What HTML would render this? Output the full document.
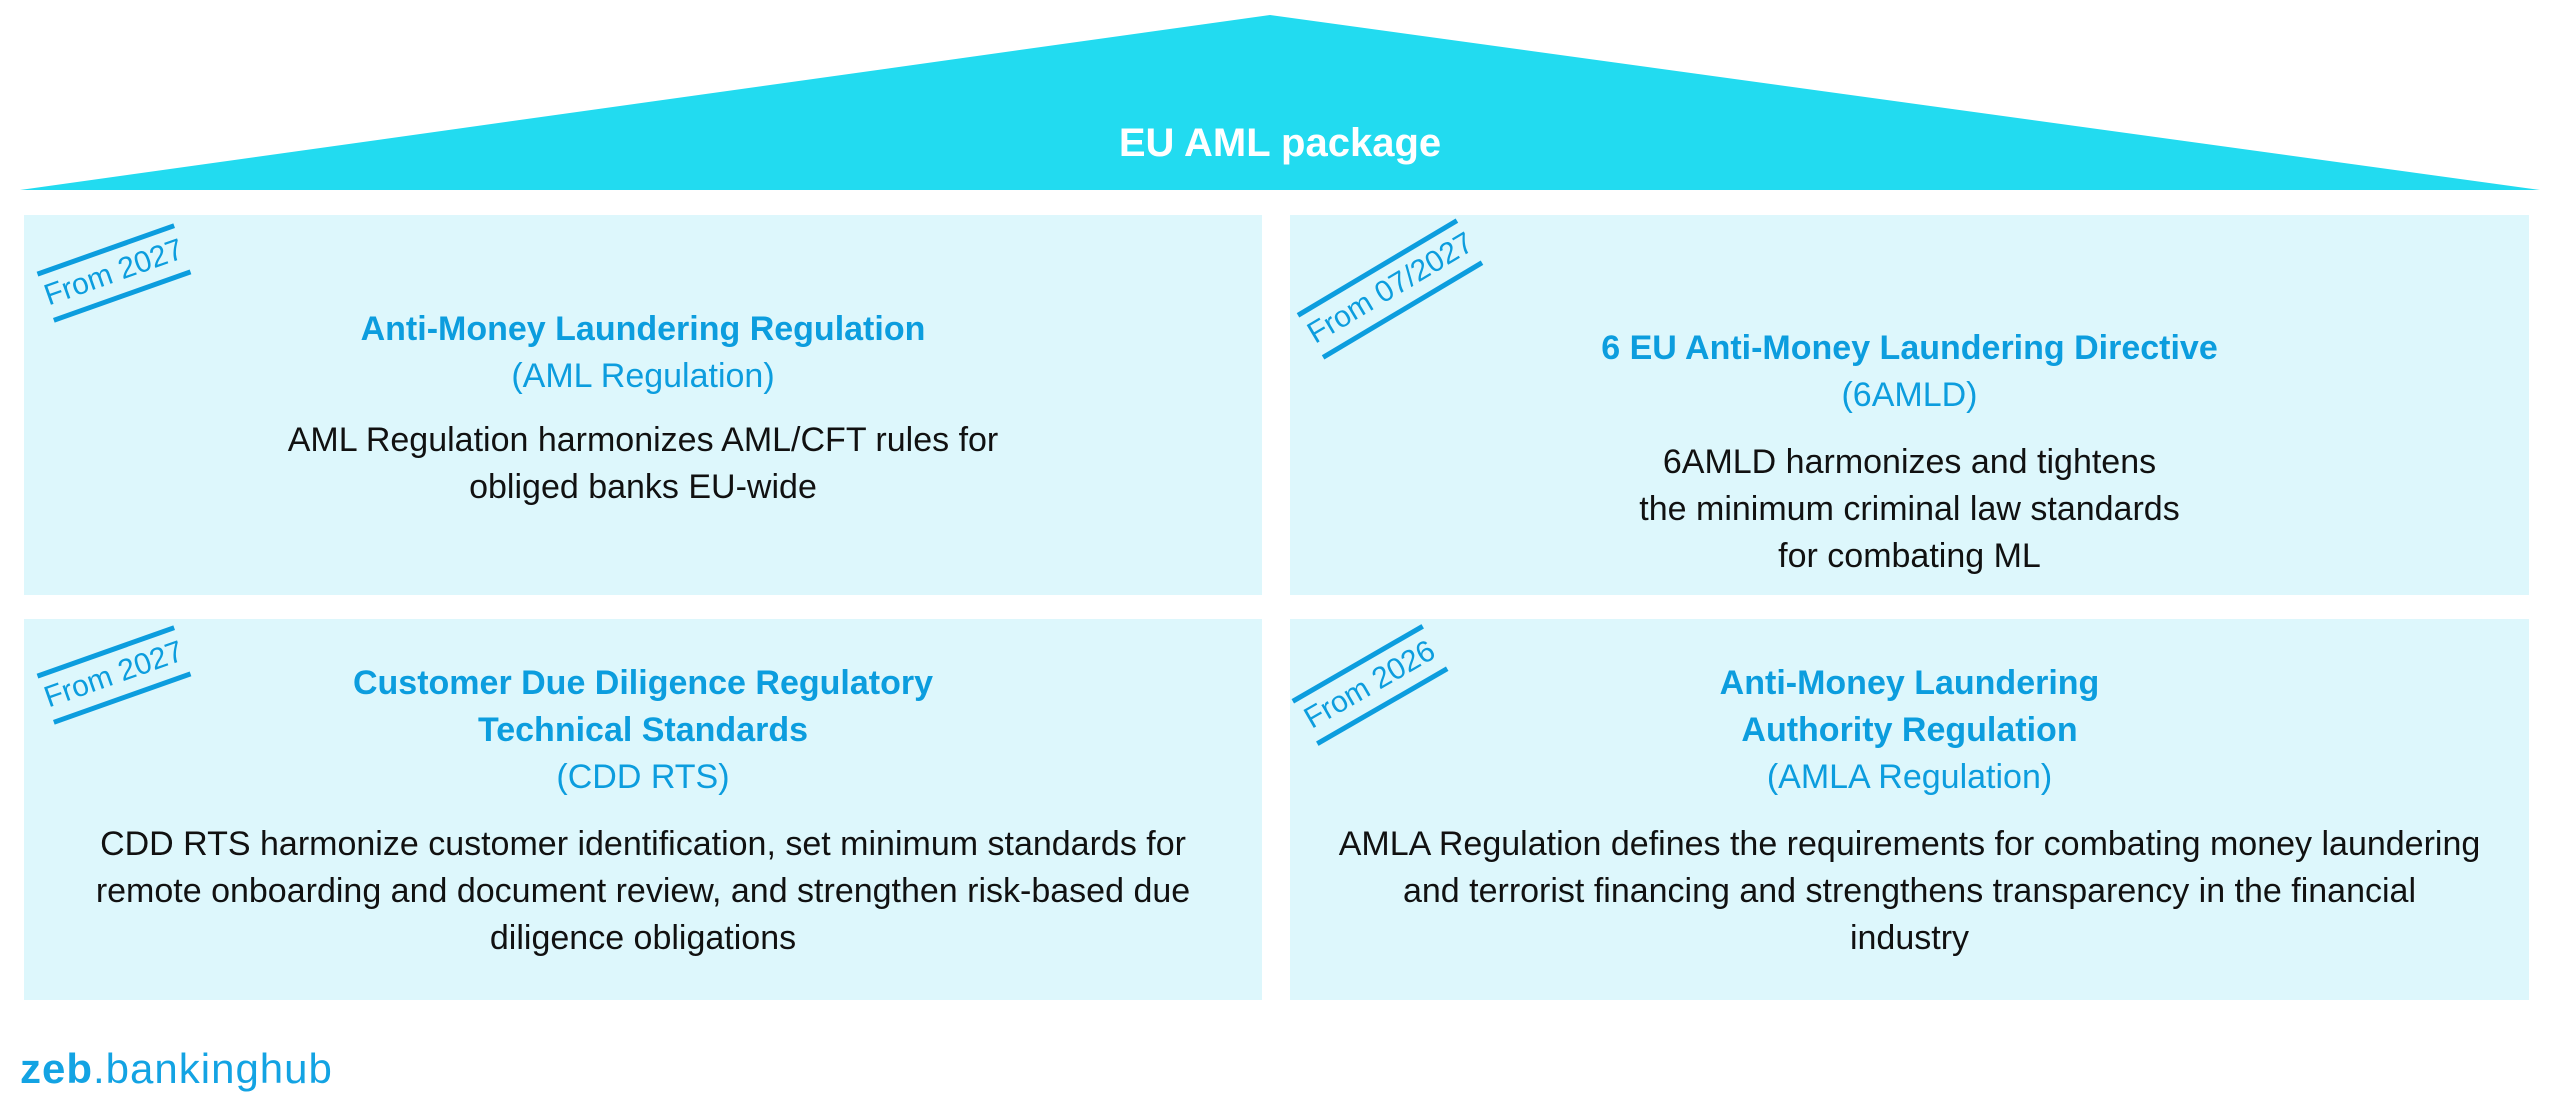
<!DOCTYPE html>
<html><head><meta charset="utf-8"><style>
body{margin:0;width:2560px;height:1101px;background:#fff;position:relative;overflow:hidden;font-family:"Liberation Sans",sans-serif}
.box{position:absolute;background:#DDF7FC;overflow:hidden}
.t{position:absolute;left:0;right:0;text-align:center;font-size:34px;line-height:47px;color:#111}
.b{color:#0C9DDE;font-weight:bold}
.s{color:#0C9DDE}
.tag{position:absolute;height:44px;border-top:5px solid #0C9DDE;border-bottom:5px solid #0C9DDE;color:#0C9DDE;font-size:30px;line-height:44px;text-align:center;white-space:nowrap}
</style></head><body>
<svg style="position:absolute;left:0;top:0" width="2560" height="200"><polygon points="20,190 1270,15 2540,190" fill="#22DBF0"/></svg>
<div style="position:absolute;left:0;width:2560px;top:118px;text-align:center;color:#fff;font-weight:bold;font-size:40px;line-height:50px">EU AML package</div>

<div class="box" style="left:24px;top:215px;width:1238px;height:380px">
<div class="tag" style="left:90px;top:58px;width:145px;transform:translate(-50%,-50%) rotate(-19.5deg)">From 2027</div>
<div class="t" style="top:91px"><span class="b">Anti-Money Laundering Regulation</span><br><span class="s">(AML Regulation)</span></div>
<div class="t" style="top:202px">AML Regulation harmonizes AML/CFT rules for<br>obliged banks EU-wide</div>
</div>

<div class="box" style="left:1290px;top:215px;width:1239px;height:380px">
<div class="tag" style="left:100px;top:74px;width:185px;transform:translate(-50%,-50%) rotate(-30.8deg)">From 07/2027</div>
<div class="t" style="top:110px"><span class="b">6 EU Anti-Money Laundering Directive</span><br><span class="s">(6AMLD)</span></div>
<div class="t" style="top:224px">6AMLD harmonizes and tightens<br>the minimum criminal law standards<br>for combating ML</div>
</div>

<div class="box" style="left:24px;top:619px;width:1238px;height:381px">
<div class="tag" style="left:90px;top:56px;width:145px;transform:translate(-50%,-50%) rotate(-19.5deg)">From 2027</div>
<div class="t" style="top:41px"><span class="b">Customer Due Diligence Regulatory<br>Technical Standards</span><br><span class="s">(CDD RTS)</span></div>
<div class="t" style="top:202px">CDD RTS harmonize customer identification, set minimum standards for<br>remote onboarding and document review, and strengthen risk-based due<br>diligence obligations</div>
</div>

<div class="box" style="left:1290px;top:619px;width:1239px;height:381px">
<div class="tag" style="left:80px;top:66px;width:150px;transform:translate(-50%,-50%) rotate(-30deg)">From 2026</div>
<div class="t" style="top:41px"><span class="b">Anti-Money Laundering<br>Authority Regulation</span><br><span class="s">(AMLA Regulation)</span></div>
<div class="t" style="top:202px">AMLA Regulation defines the requirements for combating money laundering<br>and terrorist financing and strengthens transparency in the financial<br>industry</div>
</div>

<div style="position:absolute;left:20px;top:1044px;font-size:42px;line-height:50px;color:#13A3E3;letter-spacing:1px"><b>zeb</b>.bankinghub</div>
</body></html>
